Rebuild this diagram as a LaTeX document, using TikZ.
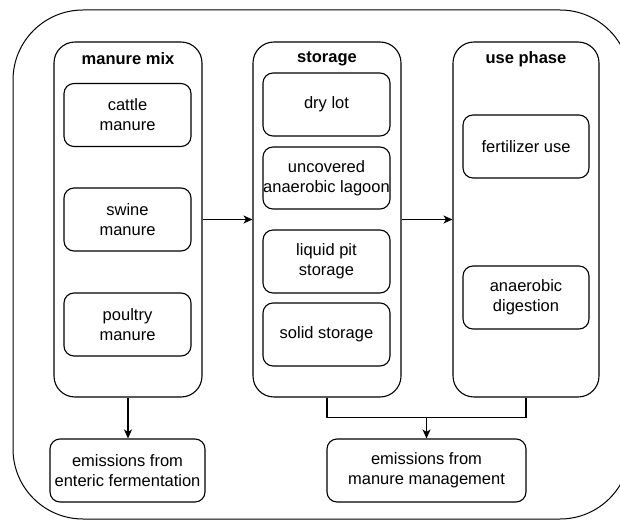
\documentclass[tikz,border=0pt]{standalone}
\usepackage{fontspec}
\setmainfont{Liberation Sans}
\usetikzlibrary{arrows.meta}
\begin{document}
\begin{tikzpicture}[x=1pt,y=-1pt,
 txt/.style={font=\fontsize{16.5}{20}\selectfont},
 box/.style={draw, line width=1.1pt, rounded corners=10pt, align=center, txt, inner sep=0pt, minimum height=63pt},
 col/.style={draw, line width=1.1pt, rounded corners=21pt, minimum height=355pt, inner sep=0pt},
 coltitle/.style={font=\fontsize{16.5}{20}\selectfont\bfseries, inner sep=0pt},
 arr/.style={line width=1.1pt, -{Stealth[length=9pt,width=8pt,inset=2.5pt]}},
 ln/.style={line width=1.1pt}]
\useasboundingbox (0,0) rectangle (620,521);
\draw[line width=1pt, rounded corners=70pt] (13,10) rectangle (630,519);

% columns
\node[col, minimum width=148pt] (mix) at (128,219.5) {};
\node[col, minimum width=148pt] (stor) at (327,219.5) {};
\node[col, minimum width=146pt] (use) at (526,219.5) {};
\node[coltitle] (tmix) at (128,59) {manure mix};
\node[coltitle] (tstor) at (327,59) {storage};
\node[coltitle] (tuse) at (526,59) {use phase};

% manure mix
\node[box, minimum width=127pt] (cattle) at (127.5,115) {cattle\\manure};
\node[box, minimum width=127pt] (swine) at (127.5,219.5) {swine\\manure};
\node[box, minimum width=127pt] (poultry) at (127.5,324.5) {poultry\\manure};

% storage
\node[box, minimum width=127pt] (dry) at (326.5,104.5) {dry lot};
\node[box, minimum width=127pt, minimum height=62pt] (lagoon) at (326.5,178) {uncovered\\anaerobic lagoon};
\node[box, minimum width=127pt] (pit) at (326.5,261.5) {liquid pit\\storage};
\node[box, minimum width=127pt] (solid) at (326.5,334.5) {solid storage};

% use phase
\node[box, minimum width=126pt] (fert) at (526,146.5) {fertilizer use};
\node[box, minimum width=126pt] (ad) at (526,297.5) {anaerobic\\digestion};

% emissions
\node[box, minimum width=155pt] (ent) at (127.5,470.5) {emissions from\\enteric fermentation};
\node[box, minimum width=199pt] (mgmt) at (426.5,470.5) {emissions from\\manure management};

% connectors
\draw[arr] (mix) -- (stor);
\draw[arr] (stor) -- (use);
\draw[arr] (mix.south) -- (mix.south |- ent.north);
\draw[ln] (stor.south) -- ++(0,20) coordinate (j1) -| (use.south);
\draw[arr] (mgmt.north |- j1) -- (mgmt.north);
\end{tikzpicture}
\end{document}
